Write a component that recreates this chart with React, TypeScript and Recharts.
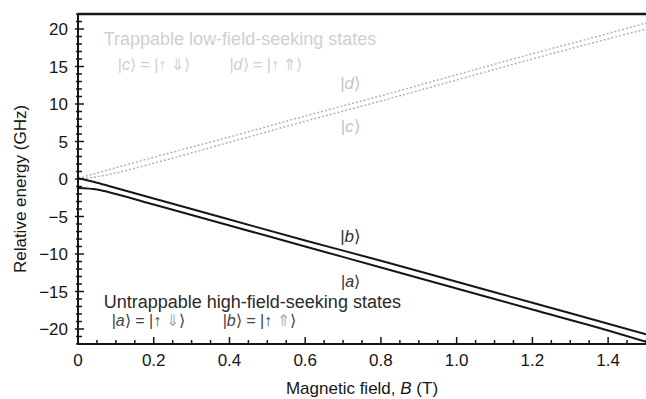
import React from "react";
import { LineChart, Line, XAxis, YAxis, ReferenceLine, ReferenceDot, Label } from "recharts";

// magnetic field (T) and relative energies (GHz) of the four hyperfine states
const B_FIELD = [0, 0.05, 0.1, 0.2, 0.4, 0.6, 0.8, 1.0, 1.2, 1.4, 1.5];
const STATE_D = [0.1, 0.8, 1.5, 2.9, 5.6, 8.4, 11.1, 13.9, 16.7, 19.4, 20.8];
const STATE_C = [0, 0.3, 0.8, 2.1, 4.9, 7.7, 10.4, 13.2, 16.0, 18.7, 20.0];
const STATE_B = [0.1, -0.5, -1.2, -2.6, -5.4, -8.2, -10.9, -13.7, -16.5, -19.3, -20.7];
const STATE_A = [-1.2, -1.4, -2.0, -3.4, -6.2, -9.0, -11.8, -14.6, -17.4, -20.2, -21.7];

const X_LABELS = ["0", "0.2", "0.4", "0.6", "0.8", "1.0", "1.2", "1.4"];
const Y_LABELS = ["20", "15", "10", "5", "0", "\u22125", "\u221210", "\u221215", "\u221220"];

const X_TICKS = Array.from({ length: 31 }, (_, i) => i * 0.05);
const Y_TICKS = Array.from({ length: 45 }, (_, i) => i - 22);

const data = B_FIELD.map((b, i) => ({
  b,
  a: STATE_A[i],
  bb: STATE_B[i],
  c: STATE_C[i],
  d: STATE_D[i],
}));

const FONT = "'Liberation Sans', Arial, sans-serif";
const INK = "#161616";

function XTick({ x, y, payload }: any) {
  const v = payload.value;
  const major = Math.round(v * 100) % 20 === 0;
  const label = X_LABELS.find((s) => Math.abs(parseFloat(s) - v) < 1e-6);
  return (
    <g>
      <line x1={x} x2={x} y1={y} y2={y - (major ? 7 : 4)} stroke={INK} strokeWidth={1.5} />
      {label && (
        <text x={x} y={y + 22} textAnchor="middle" fontSize={17} fontFamily={FONT} fill={INK}>
          {label}
        </text>
      )}
    </g>
  );
}

function YTick({ x, y, payload }: any) {
  const v = payload.value;
  const major = v % 5 === 0;
  const label = Y_LABELS.find((s) => parseFloat(s.replace("\u2212", "-")) === v);
  return (
    <g>
      <line x1={x - (major ? 3 : 2)} x2={x + (major ? 6 : 4)} y1={y} y2={y} stroke={INK} strokeWidth={1.5} />
      {label && (
        <text x={x - 10} y={y + 6} textAnchor="end" fontSize={17} fontFamily={FONT} fill={INK}>
          {label}
        </text>
      )}
    </g>
  );
}

function note(text: React.ReactNode, color: string, size = 18, anchor = "start") {
  return (props: any) => {
    const vb = props.viewBox || {};
    const x = (vb.x ?? vb.cx ?? 0) + (vb.width || 0) / 2;
    const y = (vb.y ?? vb.cy ?? 0) + (vb.height || 0) / 2;
    return (
      <text x={x} y={y} dy="0.35em" textAnchor={anchor} fontSize={size} fontFamily={FONT} fill={color}>
        {text}
      </text>
    );
  };
}

const ket = (s: string) => (
  <>
    |<tspan fontStyle="italic">{s}</tspan>⟩
  </>
);

export default function App() {
  return (
    <div style={{ position: "absolute", left: 0, top: 0, background: "#fff" }}>
      <LineChart width={646} height={399} data={data} margin={{ top: 14, right: 0, bottom: 0, left: 0 }}>
        <XAxis
          type="number"
          dataKey="b"
          domain={[0, 1.5]}
          ticks={X_TICKS}
          interval={0}
          tick={<XTick />}
          tickLine={false}
          tickSize={0}
          tickMargin={0}
          height={55}
          axisLine={{ stroke: INK, strokeWidth: 2 }}
          allowDataOverflow
          label={
            <Label
              content={(p: any) => {
                const vb = p.viewBox || {};
                return (
                  <text
                    x={vb.x + vb.width / 2}
                    y={vb.y + 50}
                    textAnchor="middle"
                    fontSize={17}
                    fontFamily={FONT}
                    fill={INK}
                  >
                    Magnetic field, <tspan fontStyle="italic">B</tspan> (T)
                  </text>
                );
              }}
            />
          }
        />
        <YAxis
          type="number"
          domain={[-22, 22]}
          ticks={Y_TICKS}
          interval={0}
          tick={<YTick />}
          tickLine={false}
          tickSize={0}
          tickMargin={0}
          width={78}
          axisLine={{ stroke: INK, strokeWidth: 2 }}
          allowDataOverflow
          label={
            <Label
              content={(p: any) => {
                const vb = p.viewBox || {};
                const cy = vb.y + vb.height / 2 + 10;
                return (
                  <text
                    x={20}
                    y={cy}
                    transform={`rotate(-90 20 ${cy})`}
                    dy="0.35em"
                    textAnchor="middle"
                    fontSize={17}
                    fontFamily={FONT}
                    fill={INK}
                  >
                    Relative energy (GHz)
                  </text>
                );
              }}
            />
          }
        />
        <ReferenceLine y={22} stroke={INK} strokeWidth={2.5} />

        <Line type="monotone" dataKey="d" stroke="#b4b4b4" strokeWidth={1.5} strokeDasharray="2 2" dot={false} isAnimationActive={false} />
        <Line type="monotone" dataKey="c" stroke="#b4b4b4" strokeWidth={1.5} strokeDasharray="2 2" dot={false} isAnimationActive={false} />
        <Line type="monotone" dataKey="bb" stroke={INK} strokeWidth={2} dot={false} isAnimationActive={false} />
        <Line type="monotone" dataKey="a" stroke={INK} strokeWidth={2} dot={false} isAnimationActive={false} />

        <ReferenceDot x={0.72} y={12.8} r={0} fill="none" stroke="none" label={note(ket("d"), "#c4c4c4", 17, "middle")} />
        <ReferenceDot x={0.72} y={7.1} r={0} fill="none" stroke="none" label={note(ket("c"), "#c4c4c4", 17, "middle")} />
        <ReferenceDot x={0.72} y={-7.6} r={0} fill="none" stroke="none" label={note(ket("b"), "#333", 17, "middle")} />
        <ReferenceDot x={0.72} y={-13.6} r={0} fill="none" stroke="none" label={note(ket("a"), "#333", 16, "middle")} />

        <ReferenceDot x={0.068} y={18.7} r={0} fill="none" stroke="none" label={note("Trappable low-field-seeking states", "#cfcfcf")} />
        <ReferenceDot
          x={0.105}
          y={15.3}
          r={0}
          fill="none"
          stroke="none"
          label={note(<>{ket("c")} = |↑ ⇓⟩</>, "#cfcfcf", 16)}
        />
        <ReferenceDot
          x={0.4}
          y={15.3}
          r={0}
          fill="none"
          stroke="none"
          label={note(<>{ket("d")} = |↑ ⇑⟩</>, "#cfcfcf", 16)}
        />
        <ReferenceDot x={0.068} y={-16.4} r={0} fill="none" stroke="none" label={note("Untrappable high-field-seeking states", "#2a2a2a")} />
        <ReferenceDot
          x={0.089}
          y={-18.8}
          r={0}
          fill="none"
          stroke="none"
          label={note(<>{ket("a")} = |↑ <tspan fill="#aaa">⇓</tspan>⟩</>, "#444", 16)}
        />
        <ReferenceDot
          x={0.382}
          y={-18.8}
          r={0}
          fill="none"
          stroke="none"
          label={note(<>{ket("b")} = |↑ <tspan fill="#aaa">⇑</tspan>⟩</>, "#444", 16)}
        />
      </LineChart>
    </div>
  );
}
